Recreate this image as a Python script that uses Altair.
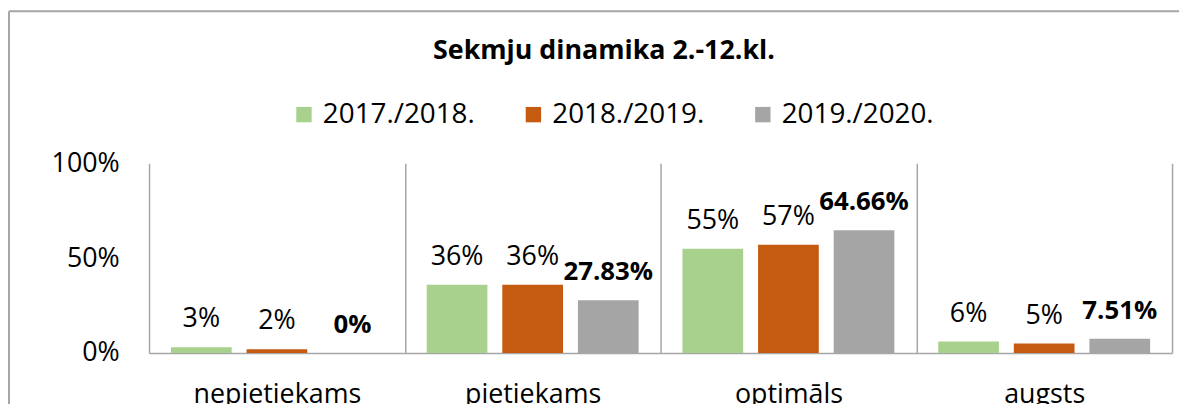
import altair as alt
import pandas as pd

categories = ["nepietiekams", "pietiekams", "optimāls", "augsts"]
series = ["2017./2018.", "2018./2019.", "2019./2020."]
v2017 = [0.03, 0.36, 0.55, 0.06]
v2018 = [0.02, 0.36, 0.57, 0.05]
v2019 = [0.0, 0.2783, 0.6466, 0.0751]
colors = ["#a9d18e", "#c55a11", "#a5a5a5"]
y_ticks = [0, 0.5, 1]
title_text = "Sekmju dinamika 2.-12.kl."

rows = []
for s, vals in zip(series, [v2017, v2018, v2019]):
    for c, v in zip(categories, vals):
        rows.append({"kategorija": c, "gads": s, "vertiba": v})
df = pd.DataFrame(rows)

W, H = 1030, 191
FONT = "Open Sans"
LINE = "#a6a6a6"

x_enc = alt.X(
    "kategorija:N", sort=categories,
    scale=alt.Scale(paddingInner=0, paddingOuter=0),
    axis=alt.Axis(title=None, labelAngle=0, labelFontSize=27, labelPadding=29,
                  ticks=False, domainColor=LINE, domainWidth=1.5,
                  grid=True, gridColor=LINE, gridWidth=1.5, tickBand="extent",
                  labelColor="black", labelFont=FONT),
)
xoff_enc = alt.XOffset("gads:N", sort=series,
                       scale=alt.Scale(paddingInner=0.197, paddingOuter=0.29))
y_enc = alt.Y(
    "vertiba:Q", scale=alt.Scale(domain=[0, 1], nice=False),
    axis=alt.Axis(values=y_ticks, format=".0%", title=None, grid=False, ticks=False,
                  domain=False, labelFontSize=27, labelPadding=30,
                  labelColor="black", labelFont=FONT),
)
color_enc = alt.Color(
    "gads:N", sort=series,
    scale=alt.Scale(domain=series, range=colors),
    legend=alt.Legend(orient="none", direction="horizontal", legendX=142, legendY=-63,
                      title=None, symbolType="square", symbolSize=240,
                      symbolStrokeWidth=0, labelFontSize=28, labelFont=FONT,
                      labelColor="black", columnPadding=44, labelOffset=5),
)

base = alt.Chart(df)
bars = base.mark_bar().encode(x=x_enc, xOffset=xoff_enc, y=y_enc, color=color_enc)

txt_normal = base.mark_text(baseline="middle", dy=-28, fontSize=27, font=FONT,
                            color="black").transform_filter(
    alt.FieldOneOfPredicate(field="gads", oneOf=series[:2])
).encode(x=x_enc, xOffset=xoff_enc, y=y_enc,
         text=alt.Text("vertiba:Q", format=".0%"))

txt_bold = base.mark_text(baseline="middle", dy=-28, fontSize=26, font=FONT,
                          fontWeight="bold", color="black").transform_filter(
    alt.FieldEqualPredicate(field="gads", equal=series[2])
).encode(x=x_enc, xOffset=xoff_enc, y=y_enc,
         text=alt.Text("vertiba:Q", format=".2~%"))

frame_df = pd.DataFrame({"k": [0]})
frame_top = alt.Chart(frame_df).mark_rule(color=LINE, strokeWidth=2).encode(
    x=alt.value(-141), x2=alt.value(W + 40), y=alt.value(-153))
frame_left = alt.Chart(frame_df).mark_rule(color=LINE, strokeWidth=2).encode(
    x=alt.value(-141), y=alt.value(-153), y2=alt.value(H + 60))

chart = alt.layer(bars, txt_normal, txt_bold, frame_top, frame_left).properties(
    width=W, height=H,
    title=alt.TitleParams(title_text, font=FONT, fontSize=27, fontWeight="bold",
                          color="black", anchor="middle", frame="group", dx=-57,
                          offset=-55),
    autosize=alt.AutoSizeParams(type="none"),
    padding={"left": 142, "top": 155, "right": 7, "bottom": 50},
).configure_view(stroke=None)

chart.save("out.html", embed_options={"renderer": "svg", "actions": False})
